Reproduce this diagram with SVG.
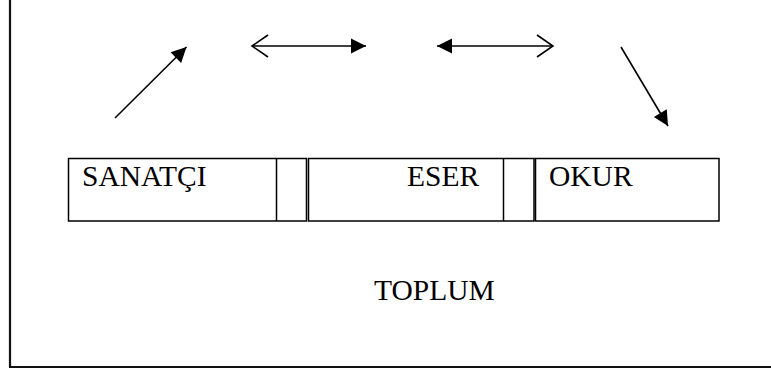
<svg xmlns="http://www.w3.org/2000/svg" width="771" height="371" viewBox="0 0 771 371">
<defs>
<style>
.box{fill:none;stroke:#000;stroke-width:1.5}
.lbl{font-family:"Liberation Serif","Times New Roman",serif;font-size:29.5px;fill:#000}
.conn{stroke:#000;stroke-width:1.6;fill:none}
.frame{stroke:#111;stroke-width:2.2;fill:none}
</style>
<marker id="solid" markerUnits="userSpaceOnUse" markerWidth="18" markerHeight="18" refX="15" refY="7.5" orient="auto-start-reverse" overflow="visible">
<path d="M0,0 L15,7.5 L0,15 Z" fill="#000"/>
</marker>
<marker id="open" markerUnits="userSpaceOnUse" markerWidth="20" markerHeight="24" refX="16" refY="11" orient="auto-start-reverse" overflow="visible">
<path d="M0,0 L16,11 L0,22" fill="none" stroke="#000" stroke-width="1.6"/>
</marker>
</defs>
<rect width="771" height="371" fill="#fff"/>
<g id="frame">
<line class="frame" x1="10" y1="0" x2="10" y2="367"/>
<line class="frame" x1="9" y1="367" x2="771" y2="367"/>
</g>
<g id="sanatci">
<rect class="box" x="68.5" y="158.5" width="238" height="62.5"/>
<line class="box" x1="276.5" y1="158.5" x2="276.5" y2="221"/>
<text class="lbl" x="82" y="185.5">SANATÇI</text>
</g>
<g id="eser">
<rect class="box" x="308.5" y="158.5" width="225.5" height="62.5"/>
<line class="box" x1="503.5" y1="158.5" x2="503.5" y2="221"/>
<text class="lbl" x="407" y="185.5">ESER</text>
</g>
<g id="okur">
<rect class="box" x="535.5" y="158.5" width="183.5" height="62.5"/>
<text class="lbl" x="549" y="185.5">OKUR</text>
</g>
<g id="toplum">
<text class="lbl" x="374" y="300">TOPLUM</text>
</g>
<g id="connectors">
<line class="conn" x1="115" y1="118" x2="186.5" y2="47" marker-end="url(#solid)"/>
<line class="conn" x1="252" y1="46" x2="366" y2="46" marker-start="url(#open)" marker-end="url(#solid)"/>
<line class="conn" x1="437" y1="46" x2="553" y2="46" marker-start="url(#solid)" marker-end="url(#open)"/>
<line class="conn" x1="621" y1="47" x2="668" y2="126" marker-end="url(#solid)"/>
</g>
</svg>
